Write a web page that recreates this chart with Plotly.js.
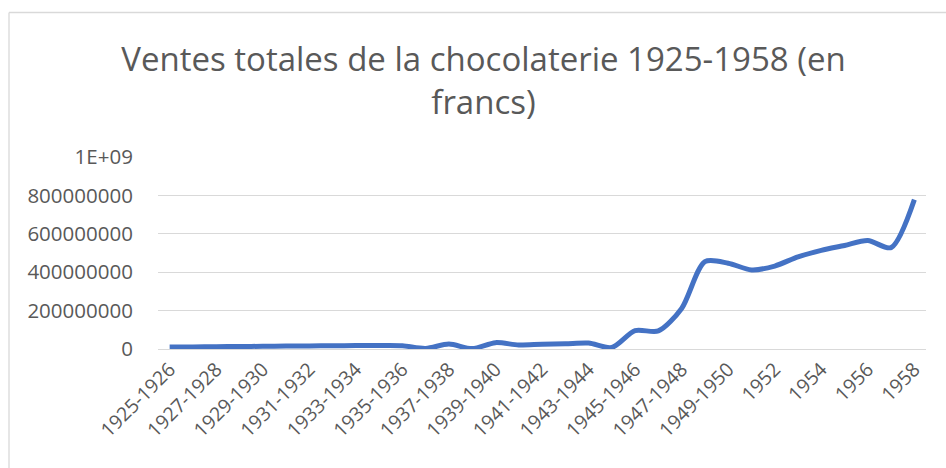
<!DOCTYPE html>
<html>
<head>
<meta charset="utf-8">
<script src="https://cdn.plot.ly/plotly-3.0.1.min.js"></script>
<style>html,body{margin:0;padding:0;background:#fff;}#chart{width:946px;height:468px;}</style>
</head>
<body>
<div id="chart"></div>
<script>
var categories = ["1925-1926","1926-1927","1927-1928","1928-1929","1929-1930","1930-1931","1931-1932","1932-1933","1933-1934","1934-1935","1935-1936","1936-1937","1937-1938","1938-1939","1939-1940","1940-1941","1941-1942","1942-1943","1943-1944","1944-1945","1945-1946","1946-1947","1947-1948","1948-1949","1949-1950","1951","1952","1953","1954","1955","1956","1957","1958"];
var ventes = [10e6,11e6,12e6,13e6,14e6,15e6,16e6,17e6,18e6,18e6,17e6,3e6,26e6,2e6,33e6,21e6,25e6,27e6,31e6,8e6,96e6,94e6,211e6,455e6,447e6,412e6,432e6,480e6,514e6,539e6,565e6,528e6,778e6];
var yTickVals = [0,2e8,4e8,6e8,8e8,1e9];
var yTickText = ["0","200000000","400000000","600000000","800000000","1E+09"];
var xTickLabels = ["1925-1926","1927-1928","1929-1930","1931-1932","1933-1934","1935-1936","1937-1938","1939-1940","1941-1942","1943-1944","1945-1946","1947-1948","1949-1950","1952","1954","1956","1958"];

var W = 946, H = 468, L = 158, R = 20, T = 157, B = 119;
var pw = W - L - R, ph = H - T - B;
function px(x){ return (x - L) / pw; }
function py(y){ return (H - B - y) / ph; }

var trace = {
  x: categories, y: ventes, type: 'scatter', mode: 'lines',
  line: {color: '#4472C4', width: 5, shape: 'spline', smoothing: 0.8},
  hoverinfo: 'x+y'
};
var layout = {
  width: W, height: H,
  margin: {l: L, r: R, t: T, b: B},
  paper_bgcolor: '#fff', plot_bgcolor: '#fff',
  showlegend: false,
  font: {family: 'Open Sans, sans-serif', color: '#595959'},
  title: {
    text: 'Ventes totales de la chocolaterie 1925-1958 (en<br>francs)',
    font: {family: 'Open Sans, sans-serif', size: 33, color: '#595959'},
    x: 483.5 / W, xanchor: 'center', xref: 'container', y: 1 - 71/H, yanchor: 'middle'
  },
  xaxis: {
    type: 'category', range: [-0.5, 32.5],
    tickmode: 'array', tickvals: xTickLabels, ticktext: xTickLabels,
    tickangle: -45, tickfont: {size: 19.5, color: '#595959'},
    showgrid: false, zeroline: false, showline: true, linecolor: '#d9d9d9', linewidth: 1.3,
    ticks: '', fixedrange: true
  },
  yaxis: {
    range: [0, 1e9], tickmode: 'array', tickvals: yTickVals, ticktext: yTickText,
    tickfont: {size: 20.5, color: '#595959'},
    showgrid: true, gridcolor: '#d9d9d9', gridwidth: 1.3,
    zeroline: false, showline: false, ticks: 'outside', ticklen: 20, tickcolor: 'rgba(0,0,0,0)',
    fixedrange: true
  },
  shapes: [
    {type: 'line', xref: 'paper', yref: 'paper', x0: px(9), x1: px(950), y0: py(12.5), y1: py(12.5), line: {color: '#d9d9d9', width: 1.3}},
    {type: 'line', xref: 'paper', yref: 'paper', x0: px(9), x1: px(9), y0: py(12.5), y1: py(475), line: {color: '#d9d9d9', width: 1.3}}
  ]
};
Plotly.newPlot('chart', [trace], layout, {displayModeBar: false, staticPlot: true});
</script>
</body>
</html>
